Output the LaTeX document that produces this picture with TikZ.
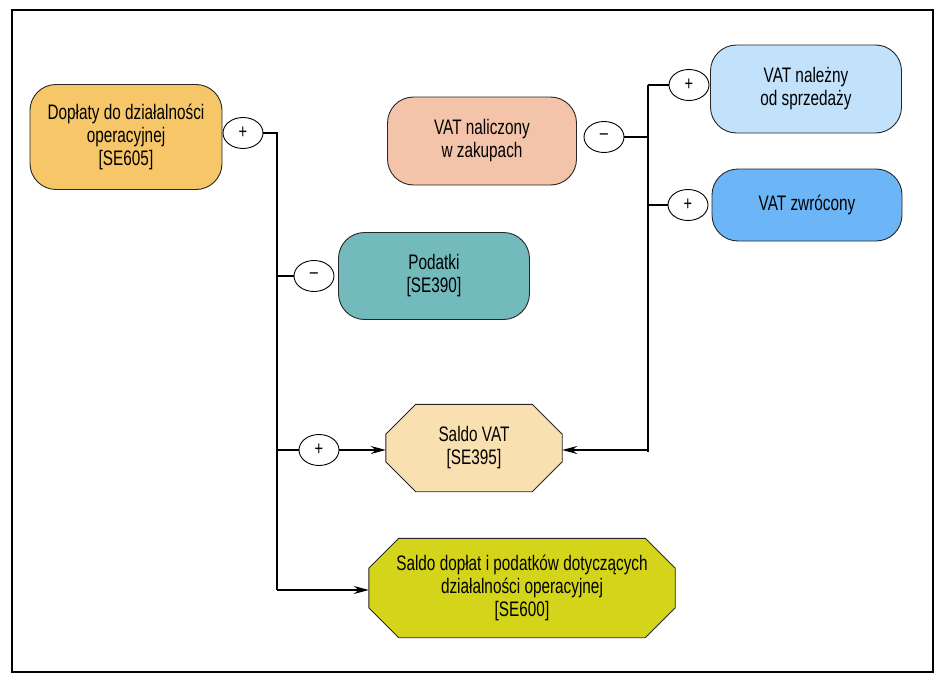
\documentclass[tikz,border=0pt]{standalone}
\usepackage{fontspec}
\setmainfont{Liberation Sans}[FakeStretch=0.73]
\usepackage{tikz}
\usetikzlibrary{arrows.meta,shapes.geometric,calc,backgrounds}

\definecolor{cDoplaty}{RGB}{246,198,104}
\definecolor{cNalicz}{RGB}{244,196,170}
\definecolor{cPodatki}{RGB}{114,186,188}
\definecolor{cNalezny}{RGB}{194,225,250}
\definecolor{cZwrot}{RGB}{108,182,248}
\definecolor{cSaldoVat}{RGB}{249,224,176}
\definecolor{cSaldo}{RGB}{212,212,26}

\tikzset{
  konto/.style={draw=black!85, line width=0.9pt, rounded corners=26pt, align=center,
    inner sep=0pt, font=\fontsize{21}{23}\selectfont},
  saldo/.style={align=center, inner sep=0pt, font=\fontsize{21}{23}\selectfont},
  oktagon/.style={draw=black!85, line width=0.9pt},
  znak/.style={draw, ellipse, line width=0.9pt, fill=white, minimum width=40pt,
    minimum height=31pt, inner sep=0pt, font=\fontsize{20}{20}\selectfont},
  linia/.style={line width=1.6pt},
  strzalka/.style={line width=1.6pt, -{Stealth[length=15pt,width=8pt]}}
}

\begin{document}
\begin{tikzpicture}[x=1pt, y=-1pt]

\useasboundingbox (0,0) rectangle (945,685);
\draw[line width=2pt] (12,10) rectangle (933,672);

% konta
\node[konto, fill=cDoplaty, minimum width=192pt, minimum height=105pt] (doplaty) at (126,137) {Dopłaty do działalności\\operacyjnej\\{[SE605]}};
\node[konto, fill=cPodatki, minimum width=191pt, minimum height=87pt] (podatki) at (434,276) {Podatki\\{[SE390]}};
\node[konto, fill=cNalicz, minimum width=189pt, minimum height=88pt] (naliczony) at (482,141) {VAT naliczony\\w zakupach};
\node[konto, fill=cNalezny, minimum width=191pt, minimum height=88pt] (nalezny) at (806,89) {VAT należny\\od sprzedaży};
\node[konto, fill=cZwrot, minimum width=190pt, minimum height=72pt] (zwrocony) at (807,205) {VAT zwrócony};

% salda
\node[saldo, minimum width=176pt, minimum height=87pt] (saldovat) at (474,448) {Saldo VAT\\{[SE395]}};
\node[saldo, minimum width=306pt, minimum height=99pt] (saldo) at (522,588) {Saldo dopłat i podatków dotyczących\\działalności operacyjnej\\{[SE600]}};

\begin{scope}[on background layer]
\foreach \n/\c in {saldovat/cSaldoVat, saldo/cSaldo}
  \filldraw[oktagon, fill=\c]
    ($(\n.north west)+(30,0)$) -- ($(\n.north east)+(-30,0)$)
    -- ($(\n.north east)+(0,30)$) -- ($(\n.south east)+(0,-30)$)
    -- ($(\n.south east)+(-30,0)$) -- ($(\n.south west)+(30,0)$)
    -- ($(\n.south west)+(0,-30)$) -- ($(\n.north west)+(0,30)$) -- cycle;
\end{scope}

% znaki
\node[znak] (zDoplaty) at (243,133) {+};
\node[znak] (zPodatki) at (314,276) {--};
\node[znak] (zSaldoVat) at (319,450) {+};
\node[znak] (zNalicz) at (604,137) {--};
\node[znak] (zNalezny) at (689,85) {+};
\node[znak] (zZwrot) at (688,205) {+};

% szyny
\coordinate (lewaG) at (277,133);
\coordinate (lewaD) at (277,590);
\coordinate (prawaG) at (648,85);
\coordinate (prawaD) at (648,452);

\draw[linia] (zDoplaty.east) -- (lewaG) -- (lewaD);
\draw[linia] (lewaG |- zPodatki) -- (zPodatki.west);
\draw[linia] (lewaG |- zSaldoVat) -- (zSaldoVat.west);
\draw[strzalka] (zSaldoVat.east) -- (saldovat.west |- zSaldoVat);
\draw[strzalka] (lewaD) -- (saldo.west |- lewaD);

\draw[linia] (zNalicz.east) -- (prawaG |- zNalicz);
\draw[linia] (prawaG) -- (prawaD);
\draw[linia] (prawaG) -- (zNalezny.west);
\draw[linia] (prawaG |- zZwrot) -- (zZwrot.west);
\draw[strzalka] (prawaG |- zSaldoVat) -- (saldovat.east |- zSaldoVat);

\end{tikzpicture}
\end{document}
